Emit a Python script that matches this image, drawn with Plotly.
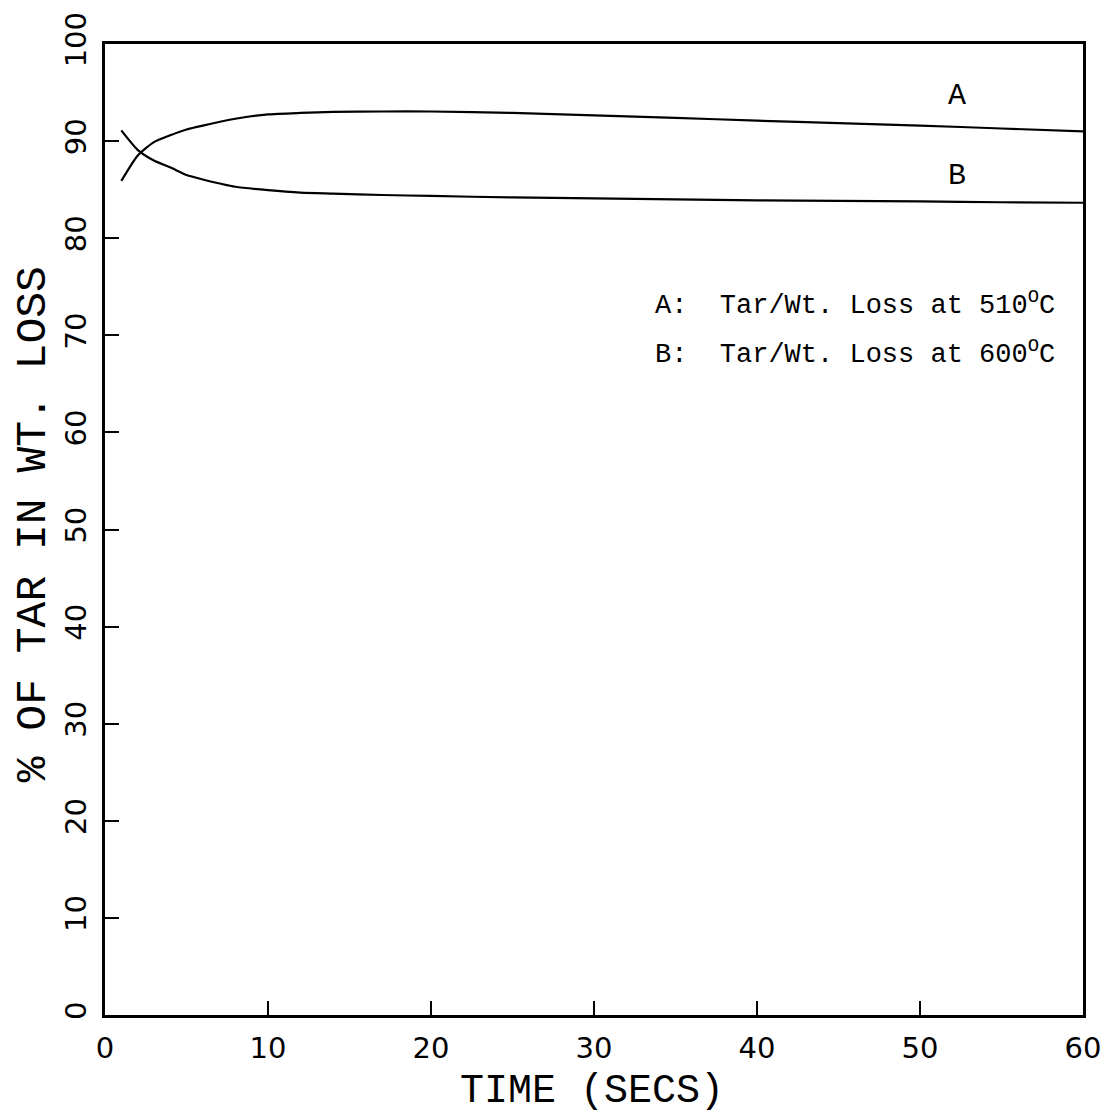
import plotly.graph_objects as go

# Time axis (seconds) and tar fraction of weight loss (%) for both runs
time_a = [1, 2, 3, 4, 5, 6, 8, 10, 12, 14, 17, 20, 25, 30, 35, 40, 45, 50, 55, 60]
tar_a = [85.9, 88.5, 89.9, 90.6, 91.2, 91.6, 92.3, 92.75, 92.9, 93.0, 93.05, 93.05,
         92.9, 92.65, 92.4, 92.1, 91.85, 91.6, 91.3, 91.0]

time_b = [1, 2, 3, 4, 5, 6, 8, 10, 12, 14, 17, 20, 25, 30, 35, 40, 45, 50, 55, 60]
tar_b = [91.1, 89.1, 88.0, 87.3, 86.5, 86.05, 85.3, 84.95, 84.7, 84.6, 84.45, 84.35,
         84.2, 84.1, 84.0, 83.9, 83.85, 83.8, 83.7, 83.65]

curve_names = ["A", "B"]
legend_lines = ["A:  Tar/Wt. Loss at 510<sup>O</sup>C",
                "B:  Tar/Wt. Loss at 600<sup>O</sup>C"]

x_ticks = [0, 10, 20, 30, 40, 50, 60]
y_ticks = [0, 10, 20, 30, 40, 50, 60, 70, 80, 90, 100]

x_title = "TIME (SECS)"
y_title = "% OF TAR IN WT. LOSS"

fig = go.Figure()
for name, xs, ys in [("A", time_a, tar_a), ("B", time_b, tar_b)]:
    fig.add_trace(go.Scatter(x=xs, y=ys, mode="lines", name=name,
                             line=dict(color="black", width=2.2, shape="spline", smoothing=0.6),
                             showlegend=False))

# Curve labels at the right-hand end
label_font = dict(family="Liberation Mono", size=30, color="black")
fig.add_annotation(x=52.3, y=94.6, text=curve_names[0], showarrow=False, font=label_font)
fig.add_annotation(x=52.3, y=86.4, text=curve_names[1], showarrow=False, font=label_font)

# Key text
key_font = dict(family="Liberation Mono", size=27, color="black")
for i, line in enumerate(legend_lines):
    fig.add_annotation(x=33.6, y=73.3 - 5.1 * i, text=line, showarrow=False,
                       xanchor="left", yanchor="middle", font=key_font)

# Axis titles, in a wide plotter-style monospace face
fig.add_annotation(xref="paper", yref="paper", x=0.498, y=-0.079, text=x_title,
                   showarrow=False,
                   font=dict(family="Liberation Mono", size=40, color="black"),
                   xanchor="center", yanchor="middle")
fig.add_annotation(xref="paper", yref="paper", x=-0.073, y=0.505, text=y_title,
                   showarrow=False,
                   font=dict(family="Liberation Mono", size=43, color="black"),
                   textangle=-90, xanchor="center", yanchor="middle")

tick_font = dict(family="DejaVu Sans", size=29, color="black")
axis_common = dict(showline=True, linecolor="black", linewidth=2.5, mirror=True,
                   ticks="inside", ticklen=14, tickwidth=2, tickcolor="black",
                   showgrid=False, zeroline=False, tickfont=tick_font)

fig.update_xaxes(range=[0, 60], tickvals=x_ticks, ticktext=[str(v) for v in x_ticks],
                 ticklabelstandoff=5, **axis_common)
fig.update_yaxes(range=[0, 100], tickvals=y_ticks, ticktext=[str(v) for v in y_ticks],
                 tickangle=-90, ticklabelstandoff=5, **axis_common)

fig.update_layout(width=1113, height=1117,
                  margin=dict(l=105, r=23, t=40, b=102),
                  paper_bgcolor="white", plot_bgcolor="white")

fig.write_html("out.html")
